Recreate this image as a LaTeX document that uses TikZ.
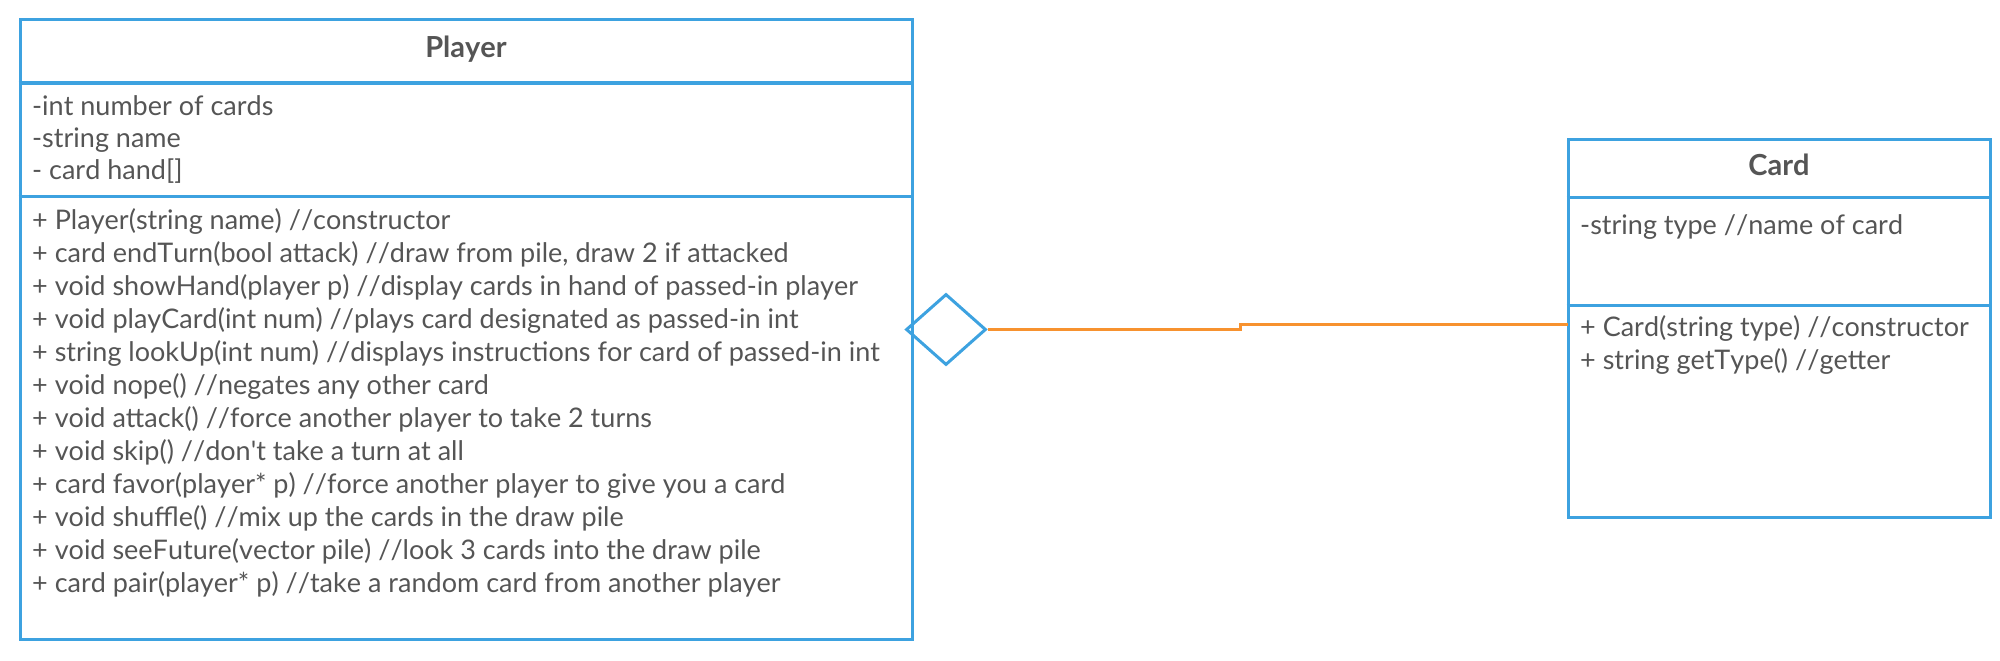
\documentclass[tikz,border=0pt]{standalone}
\usepackage{fontspec}
\setmainfont{Lato}[Kerning=Off, Ligatures=TeXOff]
\usetikzlibrary{shapes.geometric}
\definecolor{umlblue}{HTML}{3DA2E0}
\definecolor{umlorange}{HTML}{F7922F}
\definecolor{umltext}{HTML}{555555}
\tikzset{
 classbox/.style={draw=umlblue, line width=3pt, rectangle, inner sep=0pt},
 sepline/.style={draw=umlblue, line width=3pt},
 classtitle/.style={font=\fontsize{29}{32}\selectfont\bfseries, text=umltext, inner sep=0pt},
 members/.style={font=\fontsize{27}{33}\selectfont, text=umltext, align=left, anchor=base west, inner sep=0pt},
 agg/.style={diamond, draw=umlblue, line width=3pt, inner sep=0pt, minimum width=80pt, minimum height=71pt},
 assoc/.style={draw=umlorange, line width=3pt}
}
\begin{document}
\begin{tikzpicture}[x=1pt,y=-1pt]
\useasboundingbox (0,0) rectangle (2000,661);
% Player class
\node[classbox, minimum width=892pt, minimum height=619pt] (player) at (466,329.5) {};
\draw[sepline] (player.west |- 0,83) -- (player.east |- 0,83);
\draw[sepline] (player.west |- 0,196) -- (player.east |- 0,196);
\node[classtitle] (ptitle) at (466,49) {Player};
\node[members, font=\fontsize{27}{32}\selectfont] (pattr) at (32,179) {-int number of cards\\-string name\\- card hand[]};
\node[members] (pmeth) at (32,592) {+ Player(string name) //constructor\\
+ card endTurn(bool attack) //draw from pile, draw 2 if attacked\\
+ void showHand(player p) //display cards in hand of passed-in player\\
+ void playCard(int num) //plays card designated as passed-in int\\
+ string lookUp(int num) //displays instructions for card of passed-in int\\
+ void nope() //negates any other card\\
+ void attack() //force another player to take 2 turns\\
+ void skip() //don't take a turn at all\\
+ card favor(player* p) //force another player to give you a card\\
+ void shuffle() //mix up the cards in the draw pile\\
+ void seeFuture(vector pile) //look 3 cards into the draw pile\\
+ card pair(player* p) //take a random card from another player};
% Card class
\node[classbox, minimum width=422pt, minimum height=378pt] (card) at (1779,328) {};
\draw[sepline] (card.west |- 0,197) -- (card.east |- 0,197);
\draw[sepline] (card.west |- 0,305) -- (card.east |- 0,305);
\node[classtitle] (ctitle) at (1779,165) {Card};
\node[members] (cattr) at (1580,234) {-string type //name of card};
\node[members] (cmeth) at (1580,369) {+ Card(string type) //constructor\\+ string getType() //getter};
% aggregation
\node[agg] (dia) at (946,329.5) {};
\coordinate (cj) at (1568,324);
\coordinate (kink) at (1240,324);
\draw[assoc] (dia.east) -| (kink) -- (cj);
\end{tikzpicture}
\end{document}
